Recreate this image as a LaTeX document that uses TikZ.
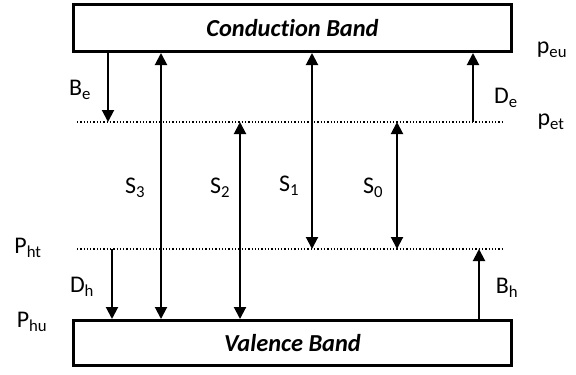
\documentclass[tikz,border=0pt]{standalone}
\usepackage{fontspec}
\setmainfont{Carlito}[Ligatures=NoCommon]
\usetikzlibrary{arrows.meta}

\begin{document}
\begin{tikzpicture}[
    x=1bp, y=-1bp,
    band/.style={draw, line width=3bp, minimum width=437bp, font=\fontsize{24.5}{28}\selectfont\bfseries\itshape, inner sep=0pt},
    lvl/.style={dotted, line width=1.3bp},
    arr/.style={-{Triangle[length=12bp, width=12bp]}, line width=2bp},
    darr/.style={{Triangle[length=12bp, width=12bp]}-{Triangle[length=12bp, width=12bp]}, line width=2bp},
    lbl/.style={font=\fontsize{24}{28}\selectfont, inner sep=0pt},
]
\useasboundingbox (0,0) rectangle (576,374);

% --- bands ---
\node[band, minimum height=47bp] (cb) at (292.5, 28) {Conduction Band};
\node[band, minimum height=45bp] (vb) at (292.5, 343) {Valence Band};

% --- trap levels ---
\coordinate (et1) at (77, 122);
\coordinate (et2) at (503, 122);
\coordinate (ht1) at (77, 249);
\coordinate (ht2) at (503, 249);
\draw[lvl] (et1) -- (et2);
\draw[lvl] (ht1) -- (ht2);

% x positions of the transitions
\coordinate (xBe) at (108, 0);
\coordinate (xSiii) at (161, 0);
\coordinate (xSii) at (240, 0);
\coordinate (xSi) at (312, 0);
\coordinate (xSo) at (397, 0);
\coordinate (xDe) at (473, 0);
\coordinate (xDh) at (112, 0);
\coordinate (xBh) at (479, 0);

% --- transitions ---
\draw[arr] (cb.south -| xBe) -- (et1 -| xBe);
\draw[arr] (et1 -| xDe) -- (cb.south -| xDe);
\draw[arr] (ht1 -| xDh) -- (vb.north -| xDh);
\draw[arr] (vb.north -| xBh) -- (ht1 -| xBh);
\draw[darr] (vb.north -| xSiii) -- (cb.south -| xSiii);
\draw[darr] (vb.north -| xSii) -- (et1 -| xSii);
\draw[darr] (cb.south -| xSi) -- (ht1 -| xSi);
\draw[darr] (et1 -| xSo) -- (ht1 -| xSo);

% --- labels ---
\node[lbl] (Be) at (80, 90) {B\textsubscript{e}};
\node[lbl] (De) at (506, 98) {D\textsubscript{e}};
\node[lbl] (peu) at (552, 50) {p\textsubscript{eu}};
\node[lbl] (pet) at (551, 122) {p\textsubscript{et}};
\node[lbl] (S3) at (135, 188) {S\textsubscript{3}};
\node[lbl] (S2) at (220, 188) {S\textsubscript{2}};
\node[lbl] (S1) at (289, 186) {S\textsubscript{1}};
\node[lbl] (S0) at (373, 188) {S\textsubscript{0}};
\node[lbl] (Pht) at (28, 248) {P\textsubscript{ht}};
\node[lbl] (Dh) at (82, 287) {D\textsubscript{h}};
\node[lbl] (Phu) at (32, 322) {P\textsubscript{hu}};
\node[lbl] (Bh) at (507, 288) {B\textsubscript{h}};
\end{tikzpicture}
\end{document}
